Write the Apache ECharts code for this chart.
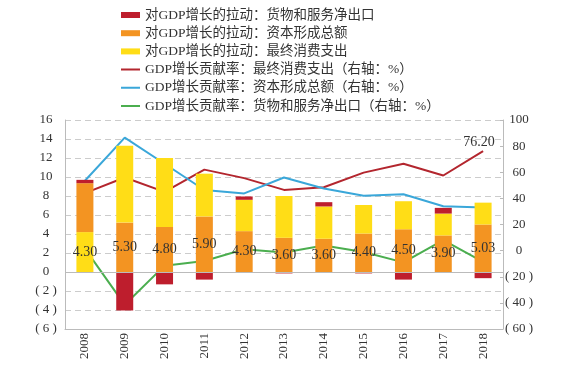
<!DOCTYPE html>
<html>
<head>
<meta charset="utf-8">
<script src="https://cdn.jsdelivr.net/npm/echarts@6/dist/echarts.min.js"></script>
<style>html,body{margin:0;padding:0;background:#fff;}#c{width:573px;height:371px;}</style>
</head>
<body>
<div id="c"></div>
<script>
const years = ['2008','2009','2010','2011','2012','2013','2014','2015','2016','2017','2018'];
// 对GDP增长的拉动（百分点，左轴）
const netExportPull   = [0.35, -4.05, -1.3, -0.8, 0.35, -0.15, 0.45, -0.15, -0.8, 0.6, -0.65];
const capitalPull     = [5.15, 5.2, 4.75, 5.85, 4.3, 3.6, 3.5, 4.05, 4.5, 3.85, 5.0];
const consumptionPull = [4.2, 8.1, 7.25, 4.5, 3.3, 4.4, 3.4, 3.0, 2.95, 2.3, 2.3];
// years in which the consumption segment is drawn below the capital segment
const consumptionBelowYears = ['2008'];
// bar value labels
const pullLabels = ['4.30','5.30','4.80','5.90','4.30','3.60','3.60','4.40','4.50','3.90','5.03'];
// GDP增长贡献率（%，右轴）
const consumptionRate = [44, 56, 45, 62, 55.5, 46.5, 48.5, 59.7, 66.5, 57.5, 76.2];
const capitalRate     = [53.5, 86.5, 66.5, 46.4, 43.8, 56, 47.5, 42, 43.2, 34, 33];
const netExportRate   = [1.5, -41.5, -11.5, -8, 1, -1.5, 4, -1, -9, 8, -8.6];
// axis ticks
const leftAxis = {min: -6, max: 16, interval: 2};
const rightAxis = {min: -60, max: 100, interval: 20};

const names = {
  netPull: '对GDP增长的拉动：货物和服务净出口',
  capPull: '对GDP增长的拉动：资本形成总额',
  conPull: '对GDP增长的拉动：最终消费支出',
  conRate: 'GDP增长贡献率：最终消费支出（右轴：%）',
  capRate: 'GDP增长贡献率：资本形成总额（右轴：%）',
  netRate: 'GDP增长贡献率：货物和服务净出口（右轴：%）'
};
const C = {
  red: '#BE1E2D', orange: '#F39422', yellow: '#FFDD17',
  lred: '#B3262E', lblue: '#3AA7D9', lgreen: '#4BAE4F'
};
const FONT = '"Liberation Serif", "Noto Sans CJK SC", serif';
const LINE_ICON = 'path://M0,0L0.01,0L0,0.01Z M0,2L19,2L19,4L0,4Z M0,6L0.01,6L0,5.99Z';

const below = years.map(y => consumptionBelowYears.includes(y));
const labelCfg = (i) => ({
  show: true, position: 'inside', formatter: pullLabels[i],
  color: '#333', fontSize: 14, fontFamily: FONT
});

const conLower = consumptionPull.map((v, i) => below[i] ? {value: v, label: labelCfg(i)} : null);
const capData = capitalPull.map((v, i) => below[i] ? v : {value: v, label: labelCfg(i)});
const conUpper = consumptionPull.map((v, i) => below[i] ? null : v);

const barCommon = {type: 'bar', stack: 'pull', barWidth: 17, z: 3, yAxisIndex: 0};
const lineCommon = {type: 'line', yAxisIndex: 1, symbol: 'circle', symbolSize: 0, showSymbol: true, z: 1, lineStyle: {width: 2}};

const option = {
  animation: false,
  backgroundColor: '#fff',
  textStyle: {fontFamily: FONT},
  legend: {
    orient: 'vertical', left: 121, top: 7, padding: 0,
    itemWidth: 19, itemHeight: 6, itemGap: 2.2,
    textStyle: {fontSize: 13.5, lineHeight: 16, color: '#333', fontFamily: FONT},
    data: [
      {name: names.netPull, icon: 'rect'},
      {name: names.capPull, icon: 'rect'},
      {name: names.conPull, icon: 'rect'},
      {name: names.conRate, icon: LINE_ICON},
      {name: names.capRate, icon: LINE_ICON},
      {name: names.netRate, icon: LINE_ICON}
    ]
  },
  grid: {left: 65, right: 70, top: 120, bottom: 42},
  xAxis: {
    type: 'category', data: years,
    axisLine: {onZero: false, lineStyle: {color: '#bbb'}},
    axisTick: {show: false},
    axisLabel: {rotate: 90, margin: 4, fontSize: 13, color: '#333', fontFamily: FONT}
  },
  yAxis: [
    {
      type: 'value', min: leftAxis.min, max: leftAxis.max, interval: leftAxis.interval,
      axisLine: {show: true, lineStyle: {color: '#bbb'}},
      axisTick: {show: false},
      splitLine: {lineStyle: {type: [6, 4], color: '#ccc'}},
      axisLabel: {
        align: 'center', margin: 19, fontSize: 13, color: '#333', fontFamily: FONT,
        formatter: v => v < 0 ? '( ' + Math.abs(v) + ' )' : String(v)
      }
    },
    {
      type: 'value', position: 'right',
      min: rightAxis.min, max: rightAxis.max, interval: rightAxis.interval,
      axisLine: {show: true, lineStyle: {color: '#bbb'}},
      axisTick: {show: true, inside: true, length: 3, lineStyle: {color: '#bbb'}},
      splitLine: {show: false},
      axisLabel: {
        align: 'center', margin: 16, fontSize: 13, color: '#333', fontFamily: FONT,
        formatter: v => v < 0 ? '( ' + Math.abs(v) + ' )' : String(v)
      }
    }
  ],
  series: [
    Object.assign({}, lineCommon, {
      name: names.conRate, data: consumptionRate.map((v, i) => i === consumptionRate.length - 1 ?
        {value: v, label: {show: true, position: 'top', distance: 2, offset: [-4, 0], formatter: v.toFixed(2), color: '#333', fontSize: 14, fontFamily: FONT}} : v),
      itemStyle: {color: C.lred}, lineStyle: {width: 2, color: C.lred}
    }),
    Object.assign({}, lineCommon, {
      name: names.capRate, data: capitalRate,
      itemStyle: {color: C.lblue}, lineStyle: {width: 2, color: C.lblue}
    }),
    Object.assign({}, lineCommon, {
      name: names.netRate, data: netExportRate,
      itemStyle: {color: C.lgreen}, lineStyle: {width: 2, color: C.lgreen}
    }),
    Object.assign({}, barCommon, {
      name: names.conPull, data: conLower, itemStyle: {color: C.yellow}
    }),
    Object.assign({}, barCommon, {
      name: names.capPull, data: capData, itemStyle: {color: C.orange},
      markLine: {
        silent: true, symbol: 'none', label: {show: false},
        lineStyle: {type: 'solid', color: '#bbb', width: 1},
        data: [{yAxis: 0}]
      }
    }),
    Object.assign({}, barCommon, {
      name: names.conPull, data: conUpper, itemStyle: {color: C.yellow}
    }),
    Object.assign({}, barCommon, {
      name: names.netPull, data: netExportPull, itemStyle: {color: C.red}
    })
  ]
};

const chart = echarts.init(document.getElementById('c'), null, {renderer: 'canvas'});
chart.setOption(option);
</script>
</body>
</html>
